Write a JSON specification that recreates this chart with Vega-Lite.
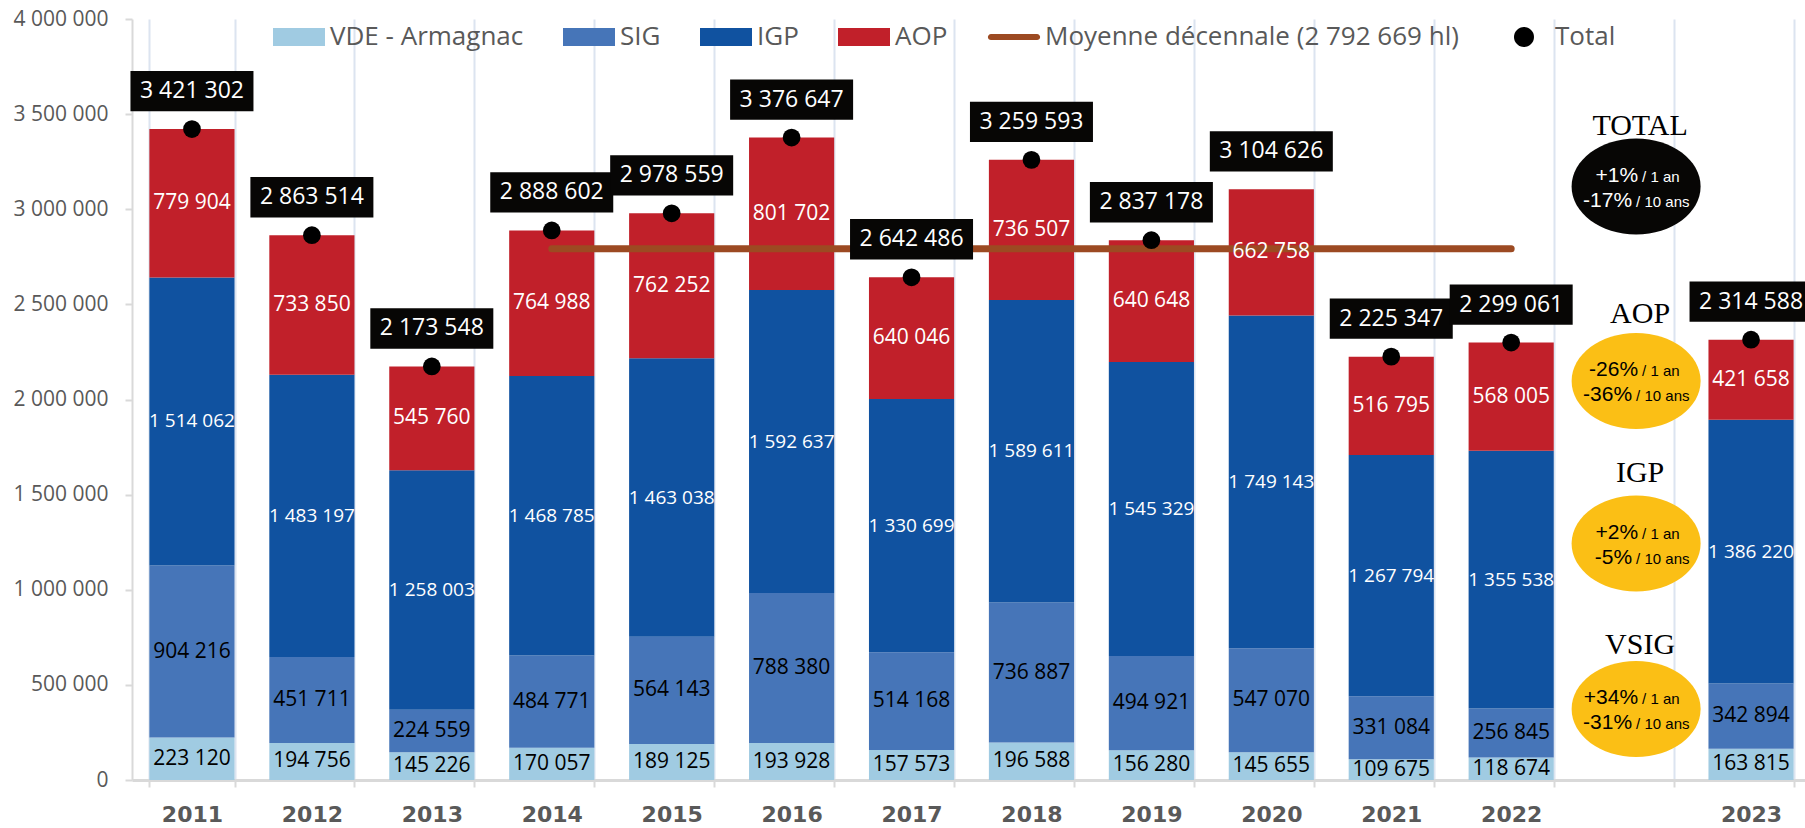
{
  "$schema": "https://vega.github.io/schema/vega-lite/v6.json",
  "width": 1679,
  "height": 761,
  "autosize": {"type": "none"},
  "padding": {"left": 132, "top": 19, "right": -6, "bottom": 48},
  "background": "white",
  "config": {
    "locale": {"number": {"decimal": ",", "thousands": " ", "grouping": [3], "currency": ["", " €"]}},
    "view": {"stroke": null},
    "font": "Open Sans"
  },
  "datasets": {
    "segments": [
      {"annee": "2011", "cat": "VDE - Armagnac", "hl": 223120},
      {"annee": "2011", "cat": "SIG", "hl": 904216},
      {"annee": "2011", "cat": "IGP", "hl": 1514062},
      {"annee": "2011", "cat": "AOP", "hl": 779904},
      {"annee": "2012", "cat": "VDE - Armagnac", "hl": 194756},
      {"annee": "2012", "cat": "SIG", "hl": 451711},
      {"annee": "2012", "cat": "IGP", "hl": 1483197},
      {"annee": "2012", "cat": "AOP", "hl": 733850},
      {"annee": "2013", "cat": "VDE - Armagnac", "hl": 145226},
      {"annee": "2013", "cat": "SIG", "hl": 224559},
      {"annee": "2013", "cat": "IGP", "hl": 1258003},
      {"annee": "2013", "cat": "AOP", "hl": 545760},
      {"annee": "2014", "cat": "VDE - Armagnac", "hl": 170057},
      {"annee": "2014", "cat": "SIG", "hl": 484771},
      {"annee": "2014", "cat": "IGP", "hl": 1468785},
      {"annee": "2014", "cat": "AOP", "hl": 764988},
      {"annee": "2015", "cat": "VDE - Armagnac", "hl": 189125},
      {"annee": "2015", "cat": "SIG", "hl": 564143},
      {"annee": "2015", "cat": "IGP", "hl": 1463038},
      {"annee": "2015", "cat": "AOP", "hl": 762252},
      {"annee": "2016", "cat": "VDE - Armagnac", "hl": 193928},
      {"annee": "2016", "cat": "SIG", "hl": 788380},
      {"annee": "2016", "cat": "IGP", "hl": 1592637},
      {"annee": "2016", "cat": "AOP", "hl": 801702},
      {"annee": "2017", "cat": "VDE - Armagnac", "hl": 157573},
      {"annee": "2017", "cat": "SIG", "hl": 514168},
      {"annee": "2017", "cat": "IGP", "hl": 1330699},
      {"annee": "2017", "cat": "AOP", "hl": 640046},
      {"annee": "2018", "cat": "VDE - Armagnac", "hl": 196588},
      {"annee": "2018", "cat": "SIG", "hl": 736887},
      {"annee": "2018", "cat": "IGP", "hl": 1589611},
      {"annee": "2018", "cat": "AOP", "hl": 736507},
      {"annee": "2019", "cat": "VDE - Armagnac", "hl": 156280},
      {"annee": "2019", "cat": "SIG", "hl": 494921},
      {"annee": "2019", "cat": "IGP", "hl": 1545329},
      {"annee": "2019", "cat": "AOP", "hl": 640648},
      {"annee": "2020", "cat": "VDE - Armagnac", "hl": 145655},
      {"annee": "2020", "cat": "SIG", "hl": 547070},
      {"annee": "2020", "cat": "IGP", "hl": 1749143},
      {"annee": "2020", "cat": "AOP", "hl": 662758},
      {"annee": "2021", "cat": "VDE - Armagnac", "hl": 109675},
      {"annee": "2021", "cat": "SIG", "hl": 331084},
      {"annee": "2021", "cat": "IGP", "hl": 1267794},
      {"annee": "2021", "cat": "AOP", "hl": 516795},
      {"annee": "2022", "cat": "VDE - Armagnac", "hl": 118674},
      {"annee": "2022", "cat": "SIG", "hl": 256845},
      {"annee": "2022", "cat": "IGP", "hl": 1355538},
      {"annee": "2022", "cat": "AOP", "hl": 568005},
      {"annee": "2023", "cat": "VDE - Armagnac", "hl": 163815},
      {"annee": "2023", "cat": "SIG", "hl": 342894},
      {"annee": "2023", "cat": "IGP", "hl": 1386220},
      {"annee": "2023", "cat": "AOP", "hl": 421658}
    ],
    "totaux": [
      {"annee": "2011", "total": 3421302},
      {"annee": "2012", "total": 2863514},
      {"annee": "2013", "total": 2173548},
      {"annee": "2014", "total": 2888602, "moyenne": 2792669},
      {"annee": "2015", "total": 2978559, "moyenne": 2792669},
      {"annee": "2016", "total": 3376647, "moyenne": 2792669},
      {"annee": "2017", "total": 2642486, "moyenne": 2792669},
      {"annee": "2018", "total": 3259593, "moyenne": 2792669},
      {"annee": "2019", "total": 2837178, "moyenne": 2792669},
      {"annee": "2020", "total": 3104626, "moyenne": 2792669},
      {"annee": "2021", "total": 2225347, "moyenne": 2792669},
      {"annee": "2022", "total": 2299061, "moyenne": 2792669},
      {"annee": "2023", "total": 2314588}
    ],
    "notes": [
      {"annee": " ", "groupe": "TOTAL", "y_titre": 3390000, "y_bulle": 3119000, "a1": "+1%", "b1": "/ 1 an", "a2": "-17%", "b2": "/ 10 ans"},
      {"annee": " ", "groupe": "AOP", "y_titre": 2402000, "y_bulle": 2097000, "a1": "-26%", "b1": "/ 1 an", "a2": "-36%", "b2": "/ 10 ans"},
      {"annee": " ", "groupe": "IGP", "y_titre": 1566000, "y_bulle": 1243000, "a1": "+2%", "b1": "/ 1 an", "a2": "-5%", "b2": "/ 10 ans"},
      {"annee": " ", "groupe": "VSIG", "y_titre": 662000, "y_bulle": 373000, "a1": "+34%", "b1": "/ 1 an", "a2": "-31%", "b2": "/ 10 ans"}
    ]
  },
  "encoding": {
    "x": {
      "field": "annee",
      "type": "nominal",
      "sort": null,
      "scale": {
        "domain": ["2011", "2012", "2013", "2014", "2015", "2016", "2017", "2018", "2019", "2020", "2021", "2022", " ", "2023"],
        "paddingInner": 0.29,
        "paddingOuter": 0.145
      },
      "axis": {
        "title": null,
        "labelAngle": 0,
        "labelFont": "DejaVu Sans",
        "labelFontWeight": "bold",
        "labelFontSize": 22,
        "labelColor": "#595959",
        "labelBaseline": "alphabetic",
        "labelPadding": 34,
        "tickBand": "extent",
        "ticks": true,
        "tickSize": 7,
        "tickColor": "#D9D9D9",
        "tickWidth": 2,
        "domainColor": "#D9D9D9",
        "domainWidth": 3,
        "grid": true,
        "gridColor": "#DCE4F0",
        "gridWidth": 2
      }
    }
  },
  "layer": [
    {
      "data": {"name": "segments"},
      "mark": {"type": "bar"},
      "encoding": {
        "y": {
          "field": "hl",
          "type": "quantitative",
          "stack": "zero",
          "title": null,
          "scale": {"domain": [0, 4000000], "nice": false, "zero": true},
          "axis": {
            "title": null,
            "values": [0, 500000, 1000000, 1500000, 2000000, 2500000, 3000000, 3500000, 4000000],
            "format": ",d",
            "labelFont": "Open Sans",
            "labelFontSize": 21,
            "labelColor": "#595959",
            "labelPadding": 17,
            "ticks": true,
            "tickSize": 7,
            "tickColor": "#D9D9D9",
            "tickWidth": 2,
            "domain": true,
            "domainColor": "#D9D9D9",
            "domainWidth": 2,
            "grid": false
          }
        },
        "color": {
          "field": "cat",
          "type": "nominal",
          "scale": {
            "domain": ["VDE - Armagnac", "SIG", "IGP", "AOP", "Moyenne décennale (2 792 669 hl)", "Total"],
            "range": ["#A0CBE2", "#4675B8", "#1052A0", "#C1202A", "#9C4A22", "#000000"]
          },
          "legend": {
            "title": null,
            "orient": "none",
            "legendX": 141,
            "legendY": -8,
            "direction": "horizontal",
            "columns": 6,
            "columnPadding": 39,
            "padding": 0,
            "symbolSize": 2704,
            "symbolStrokeWidth": 0,
            "symbolOpacity": 1,
            "symbolType": {"expr": "datum.value === 'Total' ? 'M-0.385,0A0.385,0.385 0 1,1 0.385,0A0.385,0.385 0 1,1 -0.385,0Z' : (indexof(datum.value, 'Moyenne') === 0 ? 'M-0.885,-0.12H0.885A0.12,0.12 0 0,1 0.885,0.12H-0.885A0.12,0.12 0 0,1 -0.885,-0.12Z' : 'M-1,-0.346H1V0.346H-1Z')"},
            "labelFont": "Open Sans",
            "labelFontSize": 26,
            "labelColor": "#595959",
            "labelOffset": 5,
            "labelLimit": 800
          }
        },
        "order": {"field": "cat", "sort": "descending"}
      }
    },
    {
      "data": {"name": "totaux"},
      "transform": [{"filter": "isValid(datum.moyenne)"}],
      "mark": {"type": "line", "color": "#9C4A22", "strokeWidth": 7, "strokeCap": "round"},
      "encoding": {
        "y": {"field": "moyenne", "type": "quantitative", "title": null}
      }
    },
    {
      "data": {"name": "segments"},
      "mark": {"type": "text", "baseline": "middle", "font": "Open Sans"},
      "encoding": {
        "y": {"field": "hl", "type": "quantitative", "stack": "zero", "bandPosition": 0.5, "title": null},
        "detail": {"field": "cat"},
        "order": {"field": "cat", "sort": "descending"},
        "text": {"field": "hl", "type": "quantitative", "format": ",d"},
        "color": {"condition": {"test": "datum.cat === 'IGP' || datum.cat === 'AOP'", "value": "white"}, "value": "black"},
        "size": {"condition": {"test": "datum.cat === 'IGP'", "value": 19}, "value": 21}
      }
    },
    {
      "data": {"name": "totaux"},
      "transform": [{"filter": "datum.annee !== '2020'"}],
      "mark": {"type": "point", "filled": true, "color": "black", "opacity": 1, "size": 314, "shape": "circle"},
      "encoding": {
        "y": {"field": "total", "type": "quantitative", "title": null}
      }
    },
    {
      "data": {"name": "totaux"},
      "mark": {"type": "point", "filled": true, "color": "#070605", "opacity": 1, "size": 15129, "shape": "M-1,-0.328H1V0.328H-1Z", "yOffset": -38},
      "encoding": {
        "y": {"field": "total", "type": "quantitative", "title": null}
      }
    },
    {
      "data": {"name": "totaux"},
      "mark": {"type": "text", "color": "white", "font": "Open Sans", "fontSize": 23, "baseline": "middle", "yOffset": -38},
      "encoding": {
        "y": {"field": "total", "type": "quantitative", "title": null},
        "text": {"field": "total", "type": "quantitative", "format": ",d"}
      }
    },
    {
      "data": {"name": "notes"},
      "mark": {"type": "point", "filled": true, "opacity": 1, "size": 16641, "shape": "M-1,0A1,0.744 0 1,1 1,0A1,0.744 0 1,1 -1,0Z", "xOffset": 5},
      "encoding": {
        "y": {"field": "y_bulle", "type": "quantitative", "title": null},
        "color": {"condition": {"test": "datum.groupe === 'TOTAL'", "value": "#070605"}, "value": "#FBBF15"}
      }
    },
    {
      "data": {"name": "notes"},
      "mark": {"type": "text", "font": "Liberation Serif", "fontSize": 30, "baseline": "alphabetic", "color": "black", "xOffset": 9},
      "encoding": {
        "y": {"field": "y_titre", "type": "quantitative", "title": null},
        "text": {"field": "groupe"}
      }
    },
    {
      "data": {"name": "notes"},
      "mark": {"type": "text", "font": "Liberation Sans", "fontSize": 21, "baseline": "alphabetic", "align": "right", "xOffset": 7, "yOffset": -5},
      "encoding": {
        "y": {"field": "y_bulle", "type": "quantitative", "title": null},
        "text": {"field": "a1"},
        "color": {"condition": {"test": "datum.groupe === 'TOTAL'", "value": "white"}, "value": "black"}
      }
    },
    {
      "data": {"name": "notes"},
      "mark": {"type": "text", "font": "Liberation Sans", "fontSize": 15, "baseline": "alphabetic", "align": "left", "xOffset": 11, "yOffset": -5},
      "encoding": {
        "y": {"field": "y_bulle", "type": "quantitative", "title": null},
        "text": {"field": "b1"},
        "color": {"condition": {"test": "datum.groupe === 'TOTAL'", "value": "white"}, "value": "black"}
      }
    },
    {
      "data": {"name": "notes"},
      "mark": {"type": "text", "font": "Liberation Sans", "fontSize": 21, "baseline": "alphabetic", "align": "right", "xOffset": 1, "yOffset": 20},
      "encoding": {
        "y": {"field": "y_bulle", "type": "quantitative", "title": null},
        "text": {"field": "a2"},
        "color": {"condition": {"test": "datum.groupe === 'TOTAL'", "value": "white"}, "value": "black"}
      }
    },
    {
      "data": {"name": "notes"},
      "mark": {"type": "text", "font": "Liberation Sans", "fontSize": 15, "baseline": "alphabetic", "align": "left", "xOffset": 5, "yOffset": 20},
      "encoding": {
        "y": {"field": "y_bulle", "type": "quantitative", "title": null},
        "text": {"field": "b2"},
        "color": {"condition": {"test": "datum.groupe === 'TOTAL'", "value": "white"}, "value": "black"}
      }
    }
  ]
}
